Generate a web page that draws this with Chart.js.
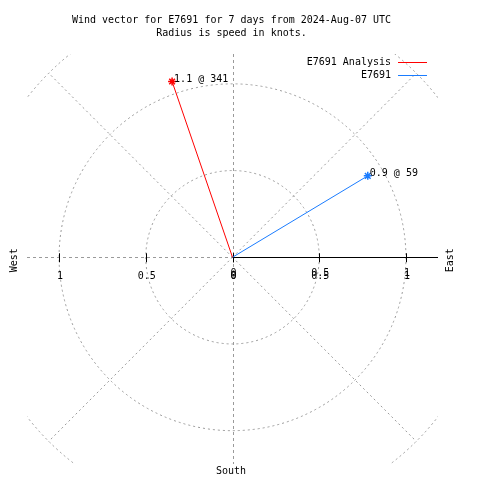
<!DOCTYPE html>
<html>
<head>
<meta charset="utf-8">
<script src="https://cdn.jsdelivr.net/npm/chart.js@4/dist/chart.umd.min.js"></script>
<style>
html,body{margin:0;padding:0;background:#fff;}
#wrap{width:480px;height:480px;}
</style>
</head>
<body>
<div id="wrap"><canvas id="c" width="480" height="480"></canvas></div>
<script>
// ---- data ----
const titleLines = ["Wind vector for E7691 for 7 days from 2024-Aug-07 UTC", "Radius is speed in knots."];
const seriesNames = ["E7691 Analysis", "E7691"];
const seriesColors = ["#ff0000", "#1a7cff"];
const speeds = [1.07, 0.91];        // knots (drawn radius)
const speedLabels = ["1.1", "0.9"];
const directions = [341, 59];       // degrees clockwise from north
const ringValues = [0.5, 1.0, 1.5];
const radialAngles = [45, 135, 225, 315];
const westTicks = [-1, -0.5, 0];
const westTickLabels = ["1", "0.5", "0"];
const eastTicks = [0, 0.5, 1];
const eastTickLabels = ["0", "0.5", "1"];

const FONT = '10px "DejaVu Sans Mono", "Liberation Mono", monospace';

function vec(s, d) {
  const r = d * Math.PI / 180;
  return {x: s * Math.sin(r), y: s * Math.cos(r)};
}

const datasets = speeds.map((s, i) => {
  const e = vec(s, directions[i]);
  return {
    label: seriesNames[i],
    data: [{x: 0, y: 0}, {x: e.x, y: e.y}],
    showLine: true,
    borderColor: seriesColors[i],
    backgroundColor: seriesColors[i],
    borderWidth: 1,
    pointStyle: 'star',
    pointRadius: [0, 4],
    pointBorderColor: seriesColors[i],
    pointBorderWidth: 1.5,
    clip: false
  };
});

const polarPlugin = {
  id: 'polar',
  beforeDatasetsDraw(chart) {
    const {ctx, chartArea: a, scales: {x, y}} = chart;
    const cx = x.getPixelForValue(0), cy = y.getPixelForValue(0);
    const ppu = x.getPixelForValue(1) - cx;
    ctx.save();
    ctx.beginPath();
    ctx.rect(a.left, a.top, a.right - a.left, a.bottom - a.top);
    ctx.clip();
    ctx.strokeStyle = '#9a9a9a';
    ctx.lineWidth = 1;
    ctx.setLineDash([2, 3]);
    // rings
    ringValues.forEach(r => {
      ctx.beginPath();
      ctx.arc(cx, cy, r * ppu, 0, Math.PI * 2);
      ctx.stroke();
    });
    // diagonal radials
    const rMax = ringValues[ringValues.length - 1];
    radialAngles.forEach(d => {
      const e = vec(rMax, d);
      ctx.beginPath();
      ctx.moveTo(cx, cy);
      ctx.lineTo(x.getPixelForValue(e.x), y.getPixelForValue(e.y));
      ctx.stroke();
    });
    // vertical dashed axis
    ctx.setLineDash([3, 3]);
    ctx.beginPath();
    ctx.moveTo(Math.round(cx) + 0.5, a.top);
    ctx.lineTo(Math.round(cx) + 0.5, a.bottom);
    ctx.stroke();
    // west dashed axis
    ctx.beginPath();
    ctx.moveTo(a.left, Math.round(cy) + 0.5);
    ctx.lineTo(cx, Math.round(cy) + 0.5);
    ctx.stroke();
    ctx.restore();

    // east solid axis
    ctx.save();
    ctx.strokeStyle = '#000';
    ctx.lineWidth = 1;
    ctx.beginPath();
    ctx.moveTo(cx, Math.round(cy) + 0.5);
    ctx.lineTo(a.right, Math.round(cy) + 0.5);
    ctx.stroke();
    // ticks
    westTicks.concat(eastTicks).forEach(t => {
      const px = Math.round(x.getPixelForValue(t)) + 0.5;
      ctx.beginPath();
      ctx.moveTo(px, cy - 4);
      ctx.lineTo(px, cy + 5);
      ctx.stroke();
    });
    ctx.restore();
  },
  afterDraw(chart) {
    const {ctx, chartArea: a, scales: {x, y}} = chart;
    const cx = x.getPixelForValue(0), cy = y.getPixelForValue(0);
    ctx.save();
    ctx.font = FONT;
    ctx.fillStyle = '#000';
    ctx.textBaseline = 'middle';
    // title
    ctx.textAlign = 'center';
    ctx.fillText(titleLines[0], 231.5, 20);
    ctx.fillText(titleLines[1], 231.5, 33);
    // legend
    ctx.textAlign = 'right';
    seriesNames.forEach((n, i) => {
      const ly = 62 + i * 13;
      ctx.fillStyle = '#000';
      ctx.fillText(n, 391, ly);
      ctx.strokeStyle = seriesColors[i];
      ctx.lineWidth = 1;
      ctx.beginPath();
      ctx.moveTo(398, ly + 0.5);
      ctx.lineTo(427, ly + 0.5);
      ctx.stroke();
    });
    // tick labels
    ctx.fillStyle = '#000';
    ctx.textAlign = 'center';
    westTicks.forEach((t, i) => {
      ctx.fillText(westTickLabels[i], x.getPixelForValue(t) + 1, cy + 19);
    });
    eastTicks.forEach((t, i) => {
      ctx.fillText(eastTickLabels[i], x.getPixelForValue(t) + 1, cy + 19);
      ctx.fillText(eastTickLabels[i], x.getPixelForValue(t) + 1, cy + 16);
    });
    // compass labels
    ctx.save();
    ctx.translate(14, cy + 3);
    ctx.rotate(-Math.PI / 2);
    ctx.fillText('West', 0, 0);
    ctx.restore();
    ctx.save();
    ctx.translate(450, cy + 3);
    ctx.rotate(-Math.PI / 2);
    ctx.fillText('East', 0, 0);
    ctx.restore();
    ctx.fillText('South', 231, 471);
    // vector labels
    ctx.textAlign = 'left';
    speeds.forEach((s, i) => {
      const e = vec(s, directions[i]);
      const px = x.getPixelForValue(e.x), py = y.getPixelForValue(e.y);
      ctx.fillText(speedLabels[i] + ' @ ' + directions[i], px + 2, py - 2);
    });
    ctx.restore();
  }
};

new Chart(document.getElementById('c'), {
  type: 'scatter',
  data: {datasets},
  options: {
    responsive: false,
    animation: false,
    devicePixelRatio: 1,
    layout: {padding: {left: 27, right: 42, top: 54, bottom: 16}},
    scales: {
      x: {type: 'linear', min: -1.185, max: 1.185, display: false},
      y: {type: 'linear', min: -1.19, max: 1.17, display: false}
    },
    plugins: {legend: {display: false}, title: {display: false}, tooltip: {enabled: false}}
  },
  plugins: [polarPlugin]
});
</script>
</body>
</html>
